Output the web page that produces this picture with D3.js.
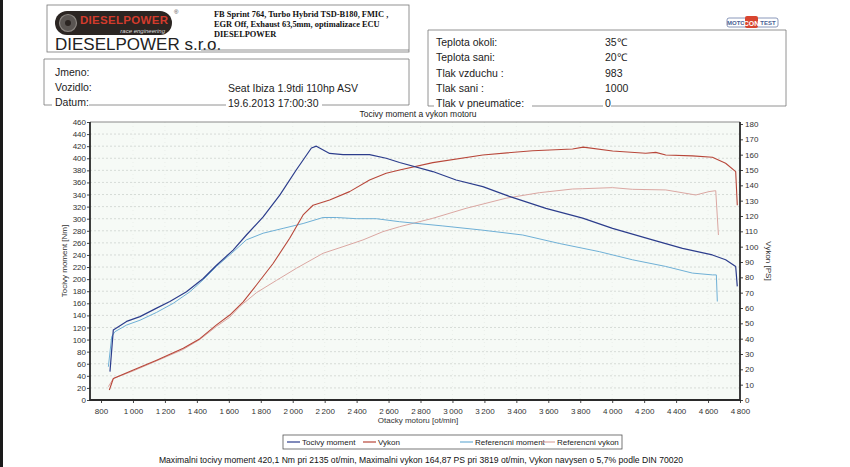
<!DOCTYPE html>
<html>
<head>
<meta charset="utf-8">
<script src="https://cdn.jsdelivr.net/npm/d3@7"></script>
<style>
  body { margin: 0; background: #fff; }
  svg { display: block; font-family: "Liberation Sans", Arial, sans-serif; }
</style>
</head>
<body>
<script>
// hodnoty odectene z protokolu
const torqueRpm = [856, 877, 960, 1044, 1148, 1231, 1335, 1440, 1523, 1627, 1710, 1815, 1919, 2023, 2117, 2148, 2231, 2315, 2481, 2585, 2669, 2877, 3023, 3190, 3356, 3585, 3815, 4002, 4252, 4440, 4627, 4710, 4773, 4783];
const torqueNm  = [47, 116, 130, 138, 152, 163, 179, 201, 223, 248, 273, 303, 339, 381, 417, 420, 408, 406, 406, 400, 393, 378, 364, 353, 337, 317, 301, 284, 265, 251, 240, 232, 221, 188];

const powerRpm = [852, 877, 1002, 1148, 1315, 1419, 1523, 1606, 1690, 1773, 1877, 1981, 2065, 2127, 2231, 2356, 2481, 2585, 2669, 2877, 3190, 3502, 3752, 3819, 4002, 4210, 4273, 4335, 4502, 4627, 4710, 4773, 4783];
const powerPs  = [6.5, 14, 19.6, 26, 33.7, 40, 49, 55.4, 64, 75, 89, 105.5, 120.7, 127, 130.5, 135.9, 143.5, 147.9, 150, 154.8, 159.8, 162.6, 163.7, 164.9, 162.4, 160.9, 161.5, 159.8, 159.2, 158.3, 154.4, 148.9, 127];

const refTorqueRpm = [846, 867, 887, 960, 1044, 1148, 1252, 1356, 1440, 1523, 1627, 1710, 1815, 1940, 2065, 2190, 2273, 2398, 2523, 2669, 2940, 3190, 3440, 3669, 3919, 4127, 4335, 4502, 4627, 4652, 4658];
const refTorqueNm  = [55, 105, 113, 124, 132, 145, 160, 179, 199, 221, 245, 265, 276, 284, 292, 302, 302, 300, 300, 295, 288, 281, 273, 259, 245.5, 232, 221, 210, 207, 207, 163];

const refPowerRpm = [846, 877, 1002, 1148, 1315, 1419, 1523, 1606, 1669, 1773, 1898, 2023, 2190, 2315, 2440, 2565, 2669, 2877, 3085, 3335, 3544, 3752, 3815, 4002, 4127, 4335, 4523, 4606, 4648, 4665];
const refPowerPs  = [8.7, 14, 19, 25.5, 33, 39.5, 48, 54, 61, 70, 78, 85.9, 95.7, 100, 104.4, 109.8, 113, 118.5, 125, 131.6, 135.2, 137.6, 137.8, 138.5, 137.4, 137, 133.7, 135.9, 136.5, 107.6];

const rpmTicks = [800, 1000, 1200, 1400, 1600, 1800, 2000, 2200, 2400, 2600, 2800, 3000, 3200, 3400, 3600, 3800, 4000, 4200, 4400, 4600, 4800];
const nmTicks = d3.range(0, 461, 20);
const psTicks = d3.range(0, 181, 10);

const seriesNames = ['Tocivy moment', 'Vykon', 'Referencni moment', 'Referencni vykon'];
const seriesColors = ['#2c3d8c', '#b8473a', '#6fb0d6', '#dba7a2'];

const headerLines = ['FB Sprint 764, Turbo Hybrid TSD-B180, FMIC ,', 'EGR Off, Exhaust 63,5mm, optimalizace ECU', 'DIESELPOWER'];
const leftLabels = ['Jmeno:', 'Vozidlo:', 'Datum:'];
const leftValues = ['', 'Seat Ibiza 1.9tdi 110hp ASV', '19.6.2013 17:00:30'];
const rightLabels = ['Teplota okoli:', 'Teplota sani:', 'Tlak vzduchu :', 'Tlak sani :', 'Tlak v pneumatice:'];
const rightValues = ['35\u2103', '20\u2103', '983', '1000', '0'];

const width = 850, height = 467;
const plot = { left: 90, right: 740, top: 122, bottom: 400 };

const svg = d3.select('body').append('svg')
  .attr('width', width)
  .attr('height', height);

// okraj skenu
svg.append('rect').attr('x', 0).attr('y', 0).attr('width', 3).attr('height', height).attr('fill', '#1a1a1a');

// ---------- hlavicka ----------
svg.append('rect')
  .attr('x', 47).attr('y', 5).attr('width', 362).attr('height', 47)
  .attr('fill', 'none').attr('stroke', '#777').attr('stroke-width', 0.8);

const logo = svg.append('g');
logo.append('rect')
  .attr('x', 55).attr('y', 11).attr('width', 117).attr('height', 24).attr('rx', 12)
  .attr('fill', '#2b2522');
logo.append('circle').attr('cx', 68).attr('cy', 23).attr('r', 8.5)
  .attr('fill', '#5a5552').attr('stroke', '#8a8580').attr('stroke-width', 1.2);
logo.append('circle').attr('cx', 68).attr('cy', 23).attr('r', 3).attr('fill', '#2b2522');
logo.append('text')
  .attr('x', 80).attr('y', 23.5)
  .attr('font-size', 11.5).attr('font-weight', 'bold').attr('fill', '#d23b2c')
  .attr('textLength', 88)
  .text('DIESELPOWER');
logo.append('text')
  .attr('x', 165).attr('y', 32.5)
  .attr('text-anchor', 'end')
  .attr('font-size', 6).attr('font-style', 'italic').attr('fill', '#ddd')
  .text('race engineering');
logo.append('text').attr('x', 174).attr('y', 14).attr('font-size', 6).attr('fill', '#444').text('\u00ae');

svg.append('text')
  .attr('x', 55).attr('y', 50)
  .attr('font-size', 17).attr('fill', '#222')
  .text('DIESELPOWER s.r.o.');
svg.append('line')
  .attr('x1', 201).attr('x2', 409).attr('y1', 50).attr('y2', 50)
  .attr('stroke', '#777').attr('stroke-width', 0.8);

svg.append('g')
  .selectAll('text')
  .data(headerLines)
  .join('text')
    .attr('x', 214)
    .attr('y', (d, i) => 17 + i * 9.8)
    .attr('font-family', '"Liberation Serif", serif')
    .attr('font-weight', 'bold')
    .attr('font-size', 8.4)
    .attr('fill', '#111')
    .text(d => d);

// MOTO CON TEST
const mct = svg.append('g');
mct.append('rect').attr('x', 727).attr('y', 18).attr('width', 51).attr('height', 9).attr('rx', 2)
  .attr('fill', '#fff').attr('stroke', '#6d7fa8').attr('stroke-width', 0.8);
mct.append('rect').attr('x', 745).attr('y', 16).attr('width', 13).attr('height', 12).attr('rx', 2).attr('fill', '#d8452f');
mct.append('text').attr('x', 736).attr('y', 25).attr('text-anchor', 'middle')
  .attr('font-size', 6).attr('font-weight', 'bold').attr('fill', '#4a5f94').text('MOTO');
mct.append('text').attr('x', 751.5).attr('y', 25.5).attr('text-anchor', 'middle')
  .attr('font-size', 7).attr('font-weight', 'bold').attr('fill', '#fff').text('CON');
mct.append('text').attr('x', 768).attr('y', 25).attr('text-anchor', 'middle')
  .attr('font-size', 6).attr('font-weight', 'bold').attr('fill', '#4a5f94').text('TEST');

// ---------- box vozidla ----------
const leftBox = svg.append('g').attr('fill', '#222').attr('font-size', 10.5);
leftBox.append('path')
  .attr('d', 'M44,105 L44,59 L409,59 L409,105')
  .attr('fill', 'none').attr('stroke', '#777').attr('stroke-width', 0.8);
leftBox.selectAll('text.lab')
  .data(leftLabels)
  .join('text')
    .attr('class', 'lab')
    .attr('x', 55)
    .attr('y', (d, i) => 76 + i * 15)
    .text(d => d);
leftBox.selectAll('text.val')
  .data(leftValues)
  .join('text')
    .attr('class', 'val')
    .attr('x', 228)
    .attr('y', (d, i) => 91.5 + (i - 1) * 15)
    .text(d => d);
leftBox.append('path')
  .attr('d', 'M44,105 L52,105 M89,105 L226,105 M322,105 L409,105')
  .attr('stroke', '#777').attr('stroke-width', 0.8);

// ---------- box podminek ----------
const rightBox = svg.append('g').attr('fill', '#222').attr('font-size', 10.5);
rightBox.append('path')
  .attr('d', 'M428,106 L428,30 L786,30 L786,106')
  .attr('fill', 'none').attr('stroke', '#777').attr('stroke-width', 0.8);
rightBox.selectAll('text.lab')
  .data(rightLabels)
  .join('text')
    .attr('class', 'lab')
    .attr('x', 436)
    .attr('y', (d, i) => 46 + i * 15.3)
    .text(d => d);
rightBox.selectAll('text.val')
  .data(rightValues)
  .join('text')
    .attr('class', 'val')
    .attr('x', 605)
    .attr('y', (d, i) => 46 + i * 15.3)
    .text(d => d);
rightBox.append('path')
  .attr('d', 'M428,106 L434,106 M532,106 L603,106 M611,106 L786,106')
  .attr('stroke', '#777').attr('stroke-width', 0.8);

// ---------- graf ----------
const x = d3.scaleLinear().domain([731, 4800]).range([plot.left, plot.right]);
const yNm = d3.scaleLinear().domain([0, 460]).range([plot.bottom, plot.top]);
const yPs = d3.scaleLinear().domain([0, 180]).range([plot.bottom, plot.top + 2]);

const fmt = d3.formatLocale({ decimal: ',', thousands: '\u2009', grouping: [3], currency: ['', ''] }).format(',');

svg.append('text')
  .attr('x', 418).attr('y', 117)
  .attr('text-anchor', 'middle')
  .attr('font-size', 8.5).attr('fill', '#222')
  .text('Tocivy moment a vykon motoru');

svg.append('rect')
  .attr('x', plot.left).attr('y', plot.top)
  .attr('width', plot.right - plot.left).attr('height', plot.bottom - plot.top)
  .attr('fill', '#f6faf6');

// mrizka
svg.append('g')
  .selectAll('line')
  .data(nmTicks.filter(d => d > 0 && d < 460))
  .join('line')
    .attr('x1', plot.left).attr('x2', plot.right)
    .attr('y1', d => yNm(d)).attr('y2', d => yNm(d))
    .attr('stroke', '#c9cfca').attr('stroke-width', 0.7)
    .attr('stroke-dasharray', '2,2');
svg.append('g')
  .selectAll('line')
  .data(rpmTicks.slice(1, -1))
  .join('line')
    .attr('x1', d => x(d)).attr('x2', d => x(d))
    .attr('y1', plot.top).attr('y2', plot.bottom)
    .attr('stroke', '#e2e7e3').attr('stroke-width', 0.6)
    .attr('stroke-dasharray', '1,3');

// osy
const axisStyle = g => {
  g.select('.domain').remove();
  g.selectAll('line').attr('stroke', '#444');
  g.selectAll('text').attr('fill', '#333').attr('font-size', 8)
    .attr('font-family', '"Liberation Sans", Arial, sans-serif');
};

svg.append('g')
  .attr('transform', `translate(${plot.left},0)`)
  .call(d3.axisLeft(yNm).tickValues(nmTicks).tickSize(3).tickPadding(1))
  .call(axisStyle);

svg.append('g')
  .attr('transform', `translate(${plot.right},0)`)
  .call(d3.axisRight(yPs).tickValues(psTicks).tickSize(3).tickPadding(2))
  .call(axisStyle);

svg.append('g')
  .attr('transform', `translate(0,${plot.bottom})`)
  .call(d3.axisBottom(x).tickValues(rpmTicks).tickSize(3).tickPadding(5).tickFormat(fmt))
  .call(axisStyle);

// ramecek
svg.append('line').attr('x1', plot.left).attr('x2', plot.right).attr('y1', plot.top).attr('y2', plot.top)
  .attr('stroke', '#8a8a8a').attr('stroke-width', 1);
svg.append('path')
  .attr('d', `M${plot.left},${plot.top} L${plot.left},${plot.bottom} L${plot.right},${plot.bottom} L${plot.right},${plot.top}`)
  .attr('fill', 'none').attr('stroke', '#2a2a2a').attr('stroke-width', 1.8);

svg.append('text')
  .attr('transform', `translate(67,${(plot.top + plot.bottom) / 2}) rotate(-90)`)
  .attr('text-anchor', 'middle')
  .attr('font-size', 8).attr('fill', '#333')
  .text('Tocivy moment [Nm]');
svg.append('text')
  .attr('transform', `translate(766,${(plot.top + plot.bottom) / 2}) rotate(90)`)
  .attr('text-anchor', 'middle')
  .attr('font-size', 8).attr('fill', '#333')
  .text('Vykon [PS]');
svg.append('text')
  .attr('x', 418).attr('y', 423)
  .attr('text-anchor', 'middle')
  .attr('font-size', 8).attr('fill', '#333')
  .text('Otacky motoru [ot/min]');

// krivky
const series = [
  { rpm: refPowerRpm, val: refPowerPs, y: yPs, color: seriesColors[3], w: 1 },
  { rpm: refTorqueRpm, val: refTorqueNm, y: yNm, color: seriesColors[2], w: 1 },
  { rpm: powerRpm, val: powerPs, y: yPs, color: seriesColors[1], w: 1.1 },
  { rpm: torqueRpm, val: torqueNm, y: yNm, color: seriesColors[0], w: 1.2 }
];

svg.append('g')
  .selectAll('path')
  .data(series)
  .join('path')
    .attr('fill', 'none')
    .attr('stroke', d => d.color)
    .attr('stroke-width', d => d.w)
    .attr('stroke-linejoin', 'round')
    .attr('d', s => d3.line()
      .x(r => x(r))
      .y((r, i) => s.y(s.val[i]))(s.rpm));

// legenda
const legendX = [287, 363, 460, 542];
const legend = svg.append('g');
legend.append('rect')
  .attr('x', 283).attr('y', 435).attr('width', 339).attr('height', 14)
  .attr('fill', '#fff').attr('stroke', '#555').attr('stroke-width', 0.8);
const items = legend.selectAll('g')
  .data(seriesNames)
  .join('g')
    .attr('transform', (d, i) => `translate(${legendX[i]},442)`);
items.append('line')
  .attr('x1', 0).attr('x2', 13)
  .attr('stroke', (d, i) => seriesColors[i]).attr('stroke-width', 1.2);
items.append('text')
  .attr('x', 15).attr('y', 3)
  .attr('font-size', 8).attr('fill', '#222')
  .text(d => d);

svg.append('text')
  .attr('x', 421).attr('y', 463)
  .attr('text-anchor', 'middle')
  .attr('font-size', 8.6).attr('fill', '#111')
  .text('Maximalni tocivy moment 420,1 Nm pri 2135 ot/min,  Maximalni vykon 164,87 PS pri 3819 ot/min,  Vykon navysen o 5,7% podle DIN 70020');
</script>
</body>
</html>
